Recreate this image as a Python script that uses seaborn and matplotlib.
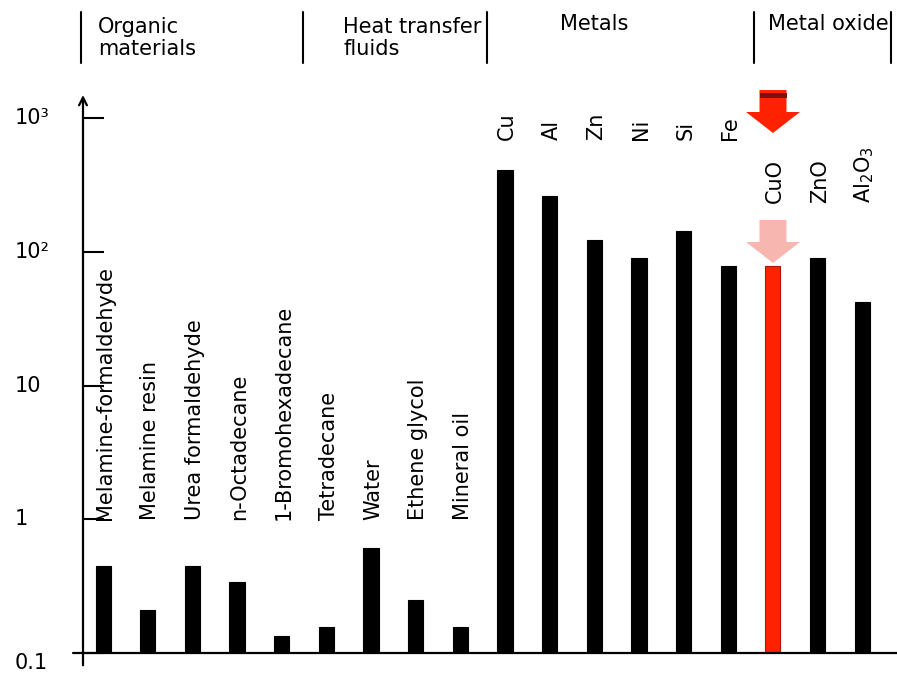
import matplotlib
matplotlib.use("Agg")
import matplotlib.pyplot as plt
import matplotlib.transforms as mtransforms
from matplotlib.patches import FancyArrow, Rectangle
from matplotlib.lines import Line2D
import numpy as np
import pandas as pd
import seaborn as sns

# values (log scale)
MATERIALS = [
    "Melamine-formaldehyde", "Melamine resin", "Urea formaldehyde", "n-Octadecane",
    "1-Bromohexadecane", "Tetradecane", "Water", "Ethene glycol", "Mineral oil",
    "Cu", "Al", "Zn", "Ni", "Si", "Fe", "CuO", "ZnO", "Al$_2$O$_3$",
]
VALUES = [0.45, 0.21, 0.45, 0.34, 0.135, 0.156, 0.61, 0.25, 0.156,
          408, 261, 122, 90, 143, 78, 78, 90, 42]
LABEL_ROW = ["low"] * 9 + ["metal"] * 6 + ["oxide"] * 3
HIGHLIGHT = "CuO"

YTICKS = [0.1, 1, 10, 100, 1000]
YTICK_LABELS = ["0.1", "1", "10", "10²", "10³"]

GROUP_NAMES = ["Organic\nmaterials", "Heat transfer\nfluids", "Metals", "Metal oxide"]
GROUP_EDGES = [-0.5, 4.48, 8.6, 14.58, 17.65]

BLACK = "#000000"
RED = "#FF2200"
PINK = "#F8B6B0"

sns.set_theme(style="white")
plt.rcParams["font.family"] = ["DejaVu Sans"]
plt.rcParams["text.color"] = BLACK

W, H = 897, 673
fig = plt.figure(figsize=(W / 100, H / 100), dpi=100)
ax = fig.add_axes([83 / W, 1 - 653 / H, 1 - 83 / W, (653 - 95) / H])

df = pd.DataFrame({"material": MATERIALS, "value": VALUES})
palette = {m: (RED if m == HIGHLIGHT else BLACK) for m in MATERIALS}
sns.barplot(data=df, x="material", y="value", hue="material", palette=palette,
            width=0.34, saturation=1, legend=False, ax=ax)
for patch, m in zip(ax.patches, MATERIALS):
    patch.set_edgecolor("#B01500" if m == HIGHLIGHT else BLACK)
    patch.set_linewidth(0.8)

ax.set_yscale("log")
ax.set_ylim(0.1, 10 ** ((653 - 95) / 133.75 - 1))
ax.set_xlim(-0.45, 17.78)
ax.set_xlabel("")
ax.set_ylabel("")
for s in ax.spines.values():
    s.set_visible(False)
ax.tick_params(axis="x", length=0, labelbottom=False)
ax.yaxis.set_minor_locator(matplotlib.ticker.NullLocator())
ax.set_yticks(YTICKS)
ax.set_yticklabels([])
ax.tick_params(axis="y", direction="in", length=15, width=1.5, color=BLACK, left=True)

# axis lines: x axis and arrowed y axis
ax.add_line(Line2D([-0.012, 1], [0, 0], transform=ax.transAxes, color=BLACK,
                   lw=1.6, clip_on=False))
ax.annotate("", xy=(0, 1.0), xytext=(0, -0.022), xycoords="axes fraction",
            arrowprops=dict(arrowstyle="->", lw=1.6, color=BLACK,
                            mutation_scale=14, shrinkA=0, shrinkB=0))

# y tick labels, left aligned
ytrans = mtransforms.blended_transform_factory(fig.transFigure, ax.transData)
for v, lab in zip(YTICKS, YTICK_LABELS):
    ax.text(15 / W, v, lab, transform=ytrans, ha="left", va="top" if v == 0.1 else "center",
            fontsize=15, color=BLACK)

# rotated material labels
xtrans = mtransforms.blended_transform_factory(ax.transData, ax.transAxes)
row_y = {"low": (653 - 520) / 558, "metal": (653 - 140) / 558, "oxide": (653 - 203) / 558}
for i, (m, row) in enumerate(zip(MATERIALS, LABEL_ROW)):
    ax.text(i + 0.05, row_y[row], m, transform=xtrans, rotation=90, ha="center",
            va="bottom", fontsize=15, color=BLACK)

# group headers with separators
htrans = mtransforms.blended_transform_factory(ax.transData, fig.transFigure)
for x in GROUP_EDGES:
    ax.add_line(Line2D([x, x], [1 - 12 / H, 1 - 63 / H], color=BLACK, lw=1.5,
                       transform=htrans, clip_on=False))
ax.text(GROUP_EDGES[0] + 0.38, 1 - 38 / H, GROUP_NAMES[0], transform=htrans, ha="left",
        va="center", fontsize=15, linespacing=1.1, color=BLACK)
ax.text(GROUP_EDGES[1] + 0.9, 1 - 38 / H, GROUP_NAMES[1], transform=htrans, ha="left",
        va="center", fontsize=15, linespacing=1.1, color=BLACK)
ax.text(11.0, 1 - 24 / H, GROUP_NAMES[2], transform=htrans, ha="center",
        va="center", fontsize=15, color=BLACK)
ax.text(GROUP_EDGES[3] + 0.3, 1 - 24 / H, GROUP_NAMES[3], transform=htrans, ha="left",
        va="center", fontsize=15, color=BLACK)

# arrows pointing at CuO
cx = 773 / W
for top, col in [(90, RED), (220, PINK)]:
    fig.add_artist(FancyArrow(cx, 1 - top / H, 0, -43 / H, width=27 / W,
                              head_width=54 / W, head_length=21 / H,
                              length_includes_head=True, color=col, lw=0,
                              transform=fig.transFigure))
fig.add_artist(Rectangle((cx - 13.5 / W, 1 - 98 / H), 27 / W, 5 / H, color="#7A1208",
                         lw=0, transform=fig.transFigure))

fig.savefig("out.png", dpi=100)
